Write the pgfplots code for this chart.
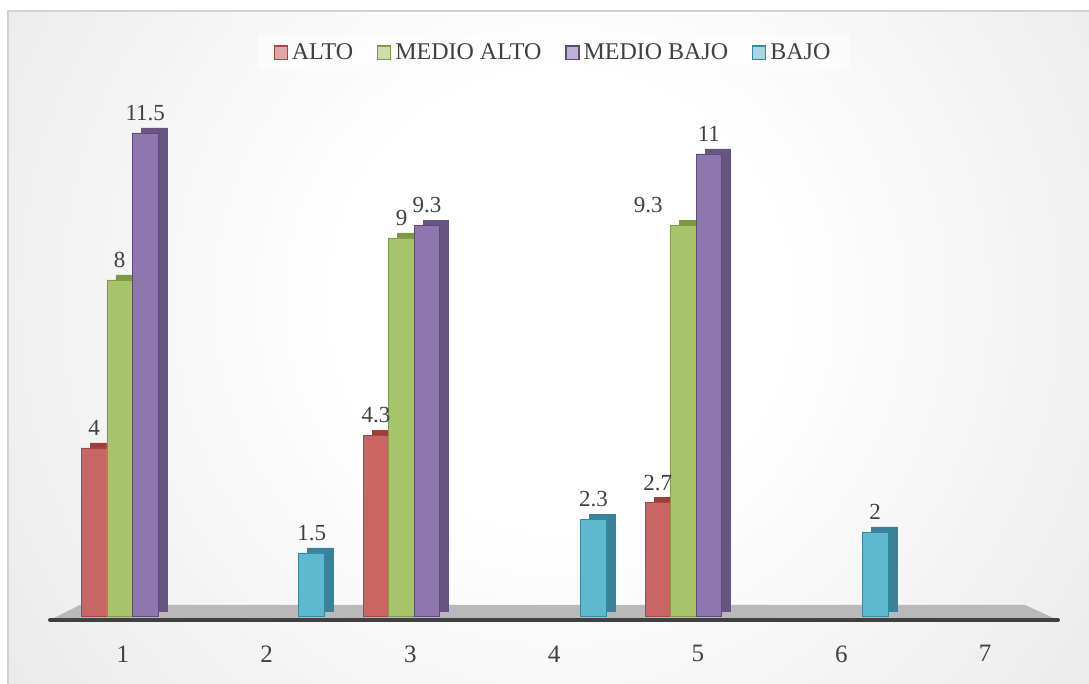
\documentclass[border=0pt]{standalone}
\usepackage{fontspec}
\setmainfont{Liberation Serif}
\usepackage{pgfplots}
\pgfplotsset{compat=1.18}
\definecolor{txt}{HTML}{404040}
\definecolor{rf}{HTML}{C96563}\definecolor{rd}{HTML}{A94442}\definecolor{rs}{HTML}{9E3E3C}
\definecolor{gf}{HTML}{A6C46A}\definecolor{gd}{HTML}{7F9C41}\definecolor{gs}{HTML}{7D9845}
\definecolor{pf}{HTML}{8E76AE}\definecolor{pd}{HTML}{5E4A80}\definecolor{ps}{HTML}{65557F}
\definecolor{cf}{HTML}{60B8CE}\definecolor{cd}{HTML}{2F8BA5}\definecolor{cs}{HTML}{3B8299}
\pgfdeclareradialshading{bgshade}{\pgfpoint{0bp}{0bp}}{color(0bp)=(white); color(8bp)=(white); color(30bp)=(gray!22); color(46bp)=(gray!46); color(50bp)=(gray!48)}
\begin{document}
\begin{tikzpicture}[font=\fontsize{11.5}{14}\selectfont]
\useasboundingbox (0,0) rectangle (544.5pt,342pt);
\fill[white] (0,0) rectangle (544.5pt,342pt);
\begin{scope}
\clip (4pt,0pt) rectangle (544.5pt,336.5pt);
\shade[shading=bgshade] (280pt,192pt) circle (350pt);
\end{scope}
\draw[gray!35, line width=0.8pt] (4pt,0pt) -- (4pt,336.5pt) -- (544.5pt,336.5pt);
\fill[gray!55] (25pt,32pt) -- (40pt,39.5pt) -- (512.5pt,39.5pt) -- (529pt,32pt) -- cycle;
\draw[line width=2pt, line cap=round, black!75] (25pt,32pt) -- (529pt,32pt);
\begin{axis}[
  at={(25.5pt,34pt)}, anchor=south west, scale only axis,
  width=503pt, height=294pt,
  xmin=0.4216, xmax=7.5614, ymin=0, ymax=14,
  ybar, bar width=12.75pt,
  axis line style={draw=none}, tick style={draw=none}, ytick=\empty,
  xtick={0.9326,1.9524,2.9723,3.9922,5.0120,6.0319,7.0518},
  xticklabels={1,2,3,4,5,6,7},
  xticklabel style={text=txt, yshift=-7pt, font=\fontsize{12.5}{15}\selectfont},
  /pgf/number format/assume math mode=true,
  nodes near coords,
  nodes near coords style={text=txt, yshift=2.5pt},
  clip=false,
  legend columns=4,
  legend style={at={(0.5,0.958)}, anchor=center, draw=none, fill=white, fill opacity=0.55, text opacity=1, text=txt,
    inner xsep=8pt, inner ysep=2pt, font=\fontsize{12}{14}\selectfont,
    /tikz/every even column/.append style={column sep=10pt}},
]
\addplot[fill=rf, draw=rd, bar shift=-19.125pt, forget plot,
  preaction={fill=rs, draw=rs, transform canvas={xshift=4.5pt, yshift=2.5pt}}]
  coordinates {(1,4) (3,4.3) (5,2.7)};
\addplot[fill=gf, draw=gd, bar shift=-6.375pt, forget plot,
  preaction={fill=gs, draw=gs, transform canvas={xshift=4.5pt, yshift=2.5pt}},
  coordinate style/.condition={\coordindex==2}{xshift=-17.5pt}]
  coordinates {(1,8) (3,9) (5,9.3)};
\addplot[fill=pf, draw=pd, bar shift=6.375pt, forget plot,
  preaction={fill=ps, draw=ps, transform canvas={xshift=4.5pt, yshift=2.5pt}}]
  coordinates {(1,11.5) (3,9.3) (5,11)};
\addplot[fill=cf, draw=cd, bar shift=19.125pt, forget plot,
  preaction={fill=cs, draw=cs, transform canvas={xshift=4.5pt, yshift=2.5pt}}]
  coordinates {(2,1.5) (4,2.3) (6,2)};
\addlegendimage{legend image code/.code={\fill[rf, draw=rd, line width=0.6pt] (0pt,-3.3pt) rectangle (6.5pt,3.3pt);}}
\addlegendentry{ALTO}
\addlegendimage{legend image code/.code={\fill[gf, draw=gd, line width=0.6pt] (0pt,-3.3pt) rectangle (6.5pt,3.3pt);}}
\addlegendentry{MEDIO ALTO}
\addlegendimage{legend image code/.code={\fill[pf, draw=pd, line width=0.6pt] (0pt,-3.3pt) rectangle (6.5pt,3.3pt);}}
\addlegendentry{MEDIO BAJO}
\addlegendimage{legend image code/.code={\fill[cf, draw=cd, line width=0.6pt] (0pt,-3.3pt) rectangle (6.5pt,3.3pt);}}
\addlegendentry{BAJO}
\end{axis}
\end{tikzpicture}
\end{document}
